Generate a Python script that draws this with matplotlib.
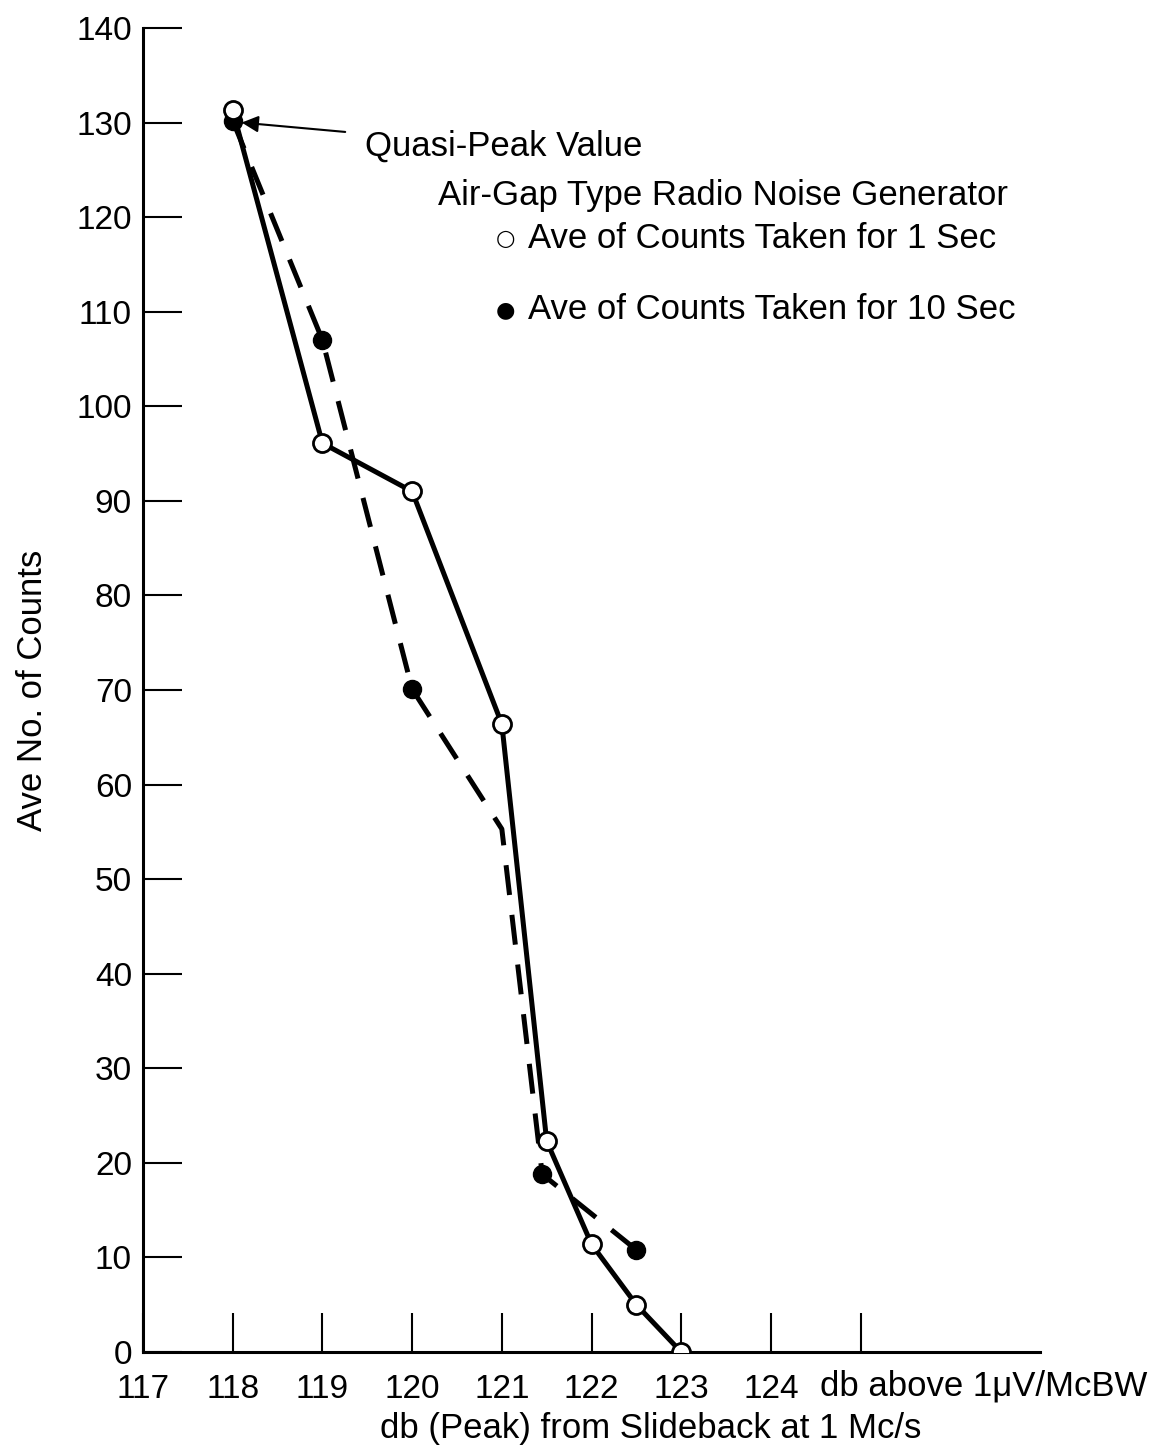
import matplotlib
matplotlib.use('Agg')
import matplotlib.pyplot as plt
from matplotlib.transforms import blended_transform_factory

plt.rcParams['font.family'] = ['Liberation Sans', 'DejaVu Sans']

# data
x_1sec = [118, 119, 120, 121, 121.5, 122, 122.5, 123]
y_1sec = [131.3, 96.1, 91.0, 66.4, 22.3, 11.4, 5.0, 0.0]

x_10sec = [118, 119, 120, 121, 121.45, 122.5]
y_10sec = [130.2, 107.0, 70.1, 55.3, 18.8, 10.8]
marked_10sec = [0, 1, 2, 4, 5]

x_ticks = [117, 118, 119, 120, 121, 122, 123, 124, 125]
x_ticklabels = ['117', '118', '119', '120', '121', '122', '123', '124', '']
y_ticks = list(range(0, 141, 10))

fig = plt.figure(figsize=(11.6, 14.51), dpi=100)
ax = fig.add_axes([0.1233, 0.0682, 0.7733, 0.9125])

ax.plot(x_1sec, y_1sec, color='black', linewidth=3.6, marker='o',
        markersize=13, markerfacecolor='white', markeredgecolor='black',
        markeredgewidth=2, zorder=3, solid_capstyle='round')
ax.plot(x_10sec, y_10sec, color='black', linewidth=3.6, dashes=(6, 4),
        marker='o', markevery=marked_10sec, markersize=13,
        markerfacecolor='black', markeredgecolor='black', zorder=2)

ax.set_xlim(117, 127)
ax.set_ylim(0, 140)

for side in ['top', 'right']:
    ax.spines[side].set_visible(False)
for side in ['left', 'bottom']:
    ax.spines[side].set_linewidth(2.2)

ax.set_xticks(x_ticks)
ax.set_xticklabels(x_ticklabels)
ax.set_yticks(y_ticks)
ax.tick_params(axis='both', direction='in', length=28, width=1.5,
               labelsize=24)
ax.tick_params(axis='x', pad=16)
ax.tick_params(axis='y', pad=8)

ax.set_ylabel('Ave No. of Counts', fontsize=25, labelpad=20)

trans = blended_transform_factory(ax.transData, ax.transAxes)
ax.text(124.55, -0.0255, 'db above 1\u03bcV/McBW', transform=trans,
        fontsize=25, ha='left', va='center')
ax.text(122.66, -0.058, 'db (Peak) from Slideback at 1 Mc/s',
        transform=trans, fontsize=25, ha='center', va='center')

# annotation and legend texts
ax.annotate('Quasi-Peak Value', xy=(118.1, 130.0), xytext=(119.47, 127.5),
            fontsize=25, va='center', ha='left',
            arrowprops=dict(arrowstyle='-|>', color='black', lw=1.5,
                            mutation_scale=25, shrinkA=12, shrinkB=0))
ax.text(120.29, 122.3, 'Air-Gap Type Radio Noise Generator', fontsize=25,
        va='center', ha='left')
ax.text(121.04, 117.7, '\u25cb', fontsize=16, va='center', ha='center',
        family='DejaVu Sans')
ax.text(121.29, 117.7, 'Ave of Counts Taken for 1 Sec', fontsize=25,
        va='center', ha='left')
ax.text(121.04, 110.2, '\u25cf', fontsize=16, va='center', ha='center',
        family='DejaVu Sans')
ax.text(121.29, 110.2, 'Ave of Counts Taken for 10 Sec', fontsize=25,
        va='center', ha='left')

fig.savefig('out.png', dpi=100)
